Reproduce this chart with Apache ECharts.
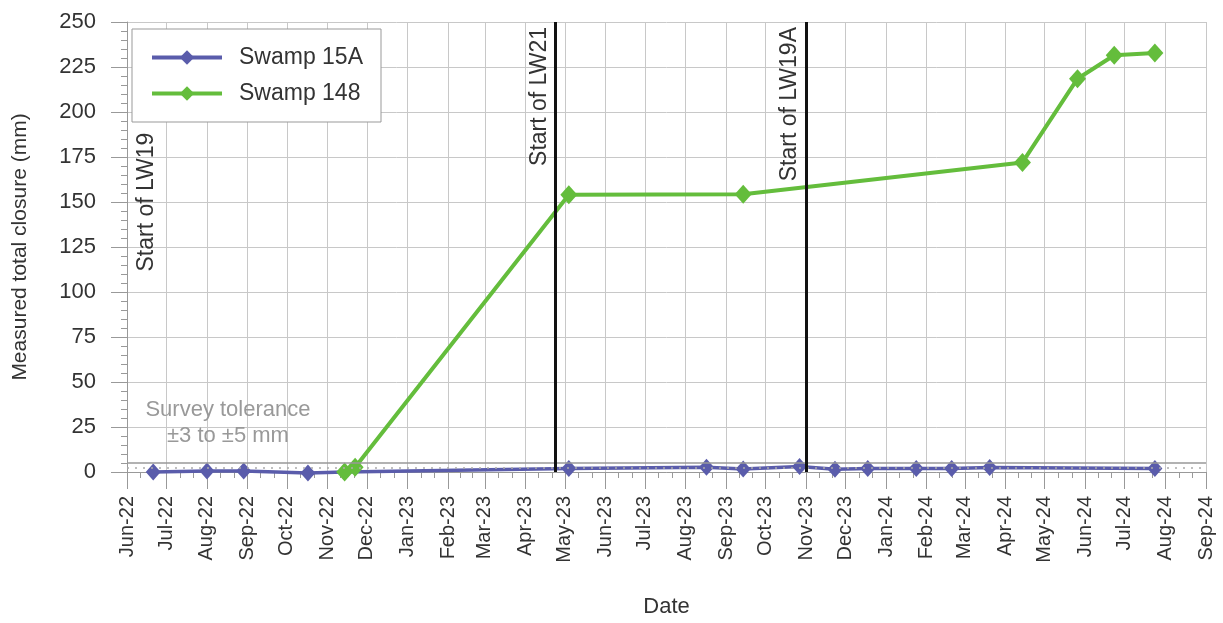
<!DOCTYPE html>
<html>
<head>
<meta charset="utf-8">
<script src="https://cdn.jsdelivr.net/npm/echarts@6/dist/echarts.min.js"></script>
<style>
  html, body { margin: 0; padding: 0; background: #fff; }
  #chart { width: 1223px; height: 623px; }
</style>
</head>
<body>
<div id="chart"></div>
<script>
// month names for the tick labels (Mmm-yy)
const monthNames = ['Jan', 'Feb', 'Mar', 'Apr', 'May', 'Jun', 'Jul', 'Aug', 'Sep', 'Oct', 'Nov', 'Dec']

// Swamp 15A survey dates and closure (mm)
const dates15A = ['2022-06-21', '2022-08-01', '2022-08-29', '2022-10-17', '2022-11-14',
  '2023-05-04', '2023-08-17', '2023-09-14', '2023-10-27', '2023-11-23', '2023-12-18',
  '2024-01-24', '2024-02-20', '2024-03-20', '2024-07-24']
const values15A = [0, 0.5, 0.5, -0.5, 0, 2, 2.6, 1.6, 3.1, 1.5, 2, 2, 2, 2.5, 2]

// Swamp 148 survey dates and closure (mm)
const dates148 = ['2022-11-14', '2022-11-22', '2023-05-04', '2023-09-14',
  '2024-04-14', '2024-05-26', '2024-06-23', '2024-07-24']
const values148 = [0, 2.6, 154, 154.3, 172, 218.5, 231.5, 232.8]

// longwall start events
const eventDates = ['2023-04-24', '2023-11-01']
const eventNames = ['Start of LW21', 'Start of LW19A']
const lw19Date = '2022-06-01'

// survey tolerance lines (mm)
const toleranceUpper = 5
const toleranceLower = 2.5

const FONT = '"Liberation Sans", Arial, sans-serif'

const chart = echarts.init(document.getElementById('chart'))

const annoLabel = {
  color: '#333',
  fontSize: 23,
  fontFamily: FONT
}

const eventLines = eventDates.map((d, i) => ({
  xAxis: d,
  lineStyle: { color: '#111', width: 3, type: 'solid' },
  label: Object.assign({
    show: true,
    formatter: eventNames[i],
    position: 'insideEndTop',
    distance: 5
  }, annoLabel)
}))

const lw19Label = Object.assign({
  show: true,
  formatter: 'Start of LW19',
  position: 'insideEndBottom',
  distance: 8
}, annoLabel)

const option = {
  animation: false,
  textStyle: { fontFamily: FONT },
  grid: { left: 127, right: 17, top: 22, bottom: 150 },
  legend: {
    orient: 'vertical',
    left: 132,
    top: 29,
    padding: [17, 18, 17, 18],
    itemGap: 13,
    itemWidth: 70,
    itemHeight: 18,
    backgroundColor: '#fff',
    borderColor: '#999',
    borderWidth: 1,
    borderRadius: 0,
    lineStyle: { width: 4 },
    textStyle: { fontSize: 23, color: '#333', fontFamily: FONT, padding: [0, 0, 0, 12] },
    data: ['Swamp 15A', 'Swamp 148']
  },
  xAxis: {
    type: 'time',
    min: '2022-06-01',
    max: '2024-09-01',
    minInterval: 28 * 24 * 3600 * 1000,
    maxInterval: 31 * 24 * 3600 * 1000,
    name: 'Date',
    nameLocation: 'middle',
    nameGap: 124,
    nameTextStyle: { fontSize: 22, color: '#333', fontFamily: FONT },
    axisLine: { show: true, onZero: false, lineStyle: { color: '#999', width: 1 } },
    axisTick: { show: true, length: 17, lineStyle: { color: '#999' } },
    minorTick: { show: true, splitNumber: 3, length: 6, lineStyle: { color: '#999' } },
    splitLine: { show: true, lineStyle: { color: '#c8c8c8', width: 1 } },
    axisLabel: {
      rotate: 90,
      margin: 24,
      fontSize: 20,
      color: '#333',
      fontFamily: FONT,
      hideOverlap: false,
      formatter: function (value) {
        const d = new Date(value)
        return monthNames[d.getMonth()] + '-' + String(d.getFullYear()).slice(2)
      }
    }
  },
  yAxis: {
    type: 'value',
    min: 0,
    max: 250,
    interval: 25,
    name: 'Measured total closure (mm)',
    nameLocation: 'middle',
    nameGap: 96,
    nameTextStyle: { fontSize: 21, color: '#333', fontFamily: FONT },
    axisLine: { show: true, lineStyle: { color: '#999', width: 1 } },
    axisTick: { show: true, length: 16, lineStyle: { color: '#999' } },
    minorTick: { show: true, splitNumber: 5, length: 6, lineStyle: { color: '#999' } },
    splitLine: { show: true, lineStyle: { color: '#c8c8c8', width: 1 } },
    axisLabel: { margin: 31, fontSize: 22, color: '#333', fontFamily: FONT }
  },
  series: [
    {
      name: 'Swamp 15A',
      type: 'line',
      clip: false,
      data: dates15A.map((d, i) => [d, values15A[i]]),
      symbol: 'diamond',
      symbolSize: [15, 17],
      lineStyle: { color: '#5a5cab', width: 3.5 },
      itemStyle: { color: '#5a5cab' },
      markLine: {
        silent: true,
        symbol: 'none',
        animation: false,
        data: [
          { yAxis: toleranceUpper, lineStyle: { color: '#999', width: 1.5, type: 'solid' }, label: { show: false } },
          { yAxis: toleranceLower, lineStyle: { color: '#aaa', width: 1.5, type: [2, 6] }, label: { show: false } },
          ...eventLines,
          [
            { coord: [lw19Date, 0], lineStyle: { color: 'rgba(0,0,0,0)', width: 1 }, label: lw19Label },
            { coord: [lw19Date, 193], label: lw19Label }
          ]
        ]
      }
    },
    {
      name: 'Swamp 148',
      type: 'line',
      clip: false,
      data: dates148.map((d, i) => [d, values148[i]]),
      symbol: 'diamond',
      symbolSize: [17, 19],
      lineStyle: { color: '#64bd3c', width: 4 },
      itemStyle: { color: '#64bd3c' }
    }
  ]
}

chart.setOption(option)

// survey tolerance note, placed at a data position above the tolerance line
const notePos = chart.convertToPixel({ gridIndex: 0 }, ['2022-08-17', 27])
chart.setOption({
  graphic: [{
    type: 'text',
    x: notePos[0],
    y: notePos[1],
    style: {
      text: 'Survey tolerance\n±3 to ±5 mm',
      fill: '#999',
      fontSize: 22,
      fontFamily: FONT,
      align: 'center',
      verticalAlign: 'middle',
      lineHeight: 26
    }
  }]
})
</script>
</body>
</html>
